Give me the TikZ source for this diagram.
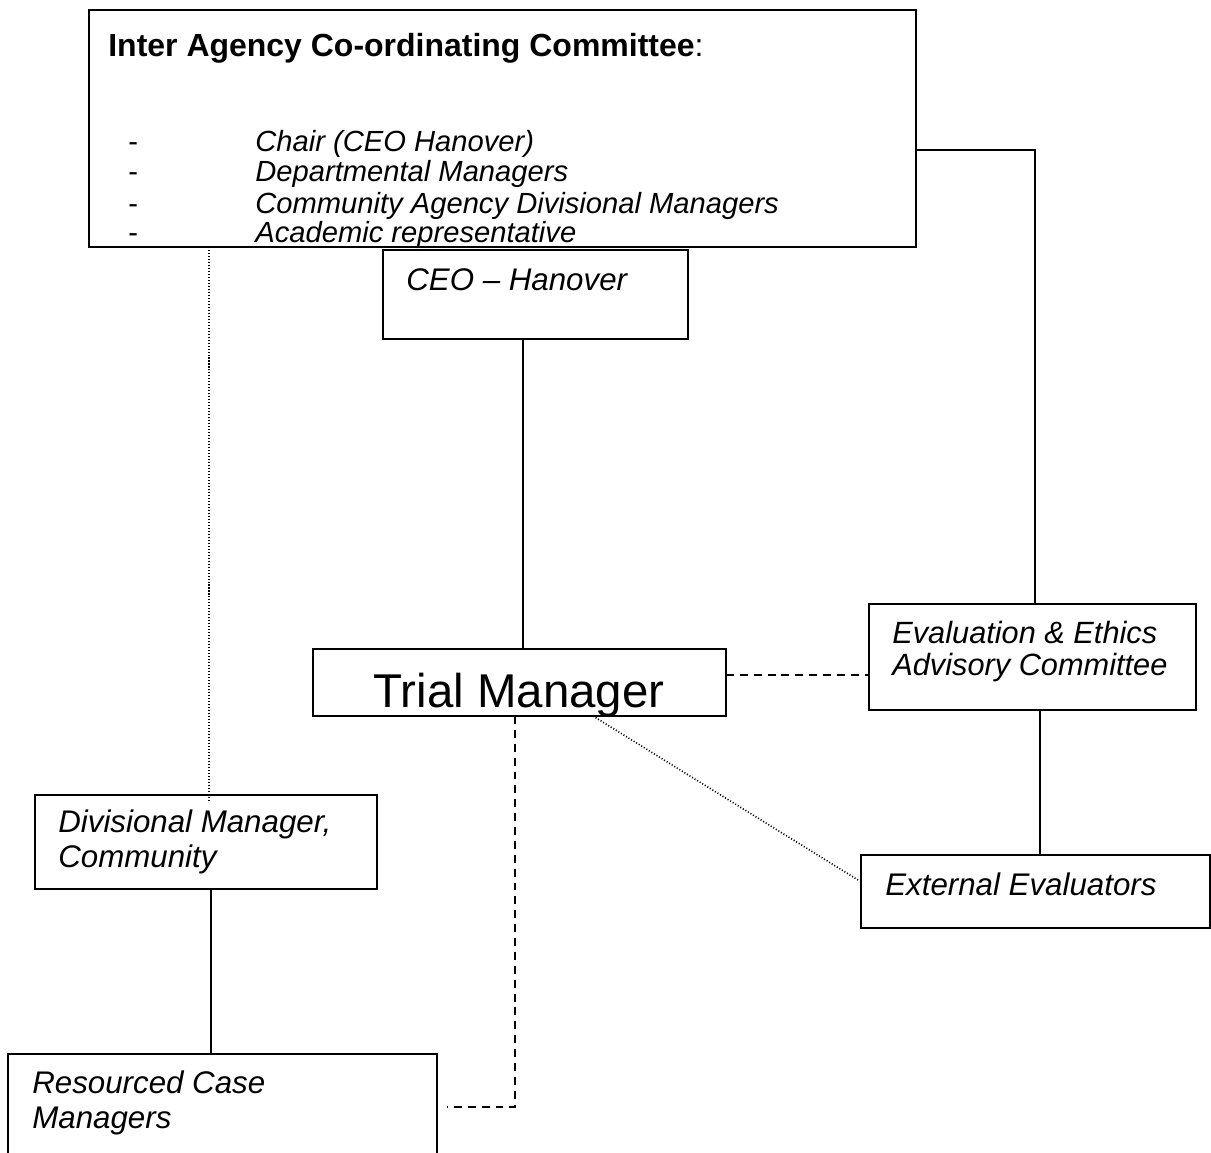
\documentclass[tikz,border=0pt]{standalone}
\usepackage{fontspec}
\setmainfont{Liberation Sans}

\tikzset{
  box/.style={draw, line width=1.1pt, inner sep=0pt, outer sep=0pt},
  boxtext/.style={anchor=west, inner sep=0pt, align=left, font=\fontsize{17.8}{20}\selectfont\itshape},
  solidlink/.style={line width=1.1pt},
  dashlink/.style={line width=1.1pt, dash pattern=on 4.5pt off 3.4pt},
  dotlink/.style={line width=0.9pt, dash pattern=on 0.6pt off 1.1pt},
}

\begin{document}
\begin{tikzpicture}[x=0.02cm, y=-0.02cm]
  \useasboundingbox (0,0) rectangle (1211,1153);
  % Committee at the top
  \node[box, minimum width=16.54cm, minimum height=4.74cm] (iacc) at (502.5,128.5) {};
  \node[anchor=west, inner sep=0pt, font=\fontsize{18.2}{20}\selectfont] (iacctitle) at (108,48)
    {\textbf{Inter Agency Co-ordinating Committee}:};
  \foreach \y/\txt [count=\i] in {151/Chair (CEO Hanover), 181/Departmental Managers,
      213/Community Agency Divisional Managers, 242/Academic representative} {
    \node[anchor=base west, inner sep=0pt, font=\fontsize{16.6}{18}\selectfont] (dash\i) at (128,\y) {-};
    \node[anchor=base west, inner sep=0pt, font=\fontsize{16.6}{18}\selectfont\itshape] (item\i) at (255,\y) {\txt};
  }
  % CEO
  \node[box, minimum width=6.10cm, minimum height=1.78cm] (ceo) at (535.5,294.5) {};
  \node[boxtext] (ceotext) at (406,280) {CEO -- Hanover};
  % Trial manager (text cut off by the box)
  \node[box, minimum width=8.26cm, minimum height=1.34cm] (trial) at (519.5,682.5) {};
  \begin{scope}
    \clip (trial.south west) rectangle (trial.north east);
    \node[anchor=base, inner sep=0pt, font=\fontsize{27}{30}\selectfont] (trialtext) at (519,707) {Trial Manager};
  \end{scope}
  % Evaluation committee and evaluators
  \node[box, minimum width=6.54cm, minimum height=2.12cm] (eec) at (1032.5,657) {};
  \node[boxtext, font=\fontsize{17.5}{18.2}\selectfont\itshape] (eectext) at (892,652)
    {Evaluation \& Ethics\\Advisory Committee};
  \node[box, minimum width=6.98cm, minimum height=1.46cm] (ext) at (1035.5,891.5) {};
  \node[boxtext] (exttext) at (885,884) {External Evaluators};
  % Community side
  \node[box, minimum width=6.84cm, minimum height=1.88cm] (div) at (206,842) {};
  \node[boxtext] (divtext) at (58,842) {Divisional Manager,\\Community};
  \node[box, minimum width=8.58cm, minimum height=2.12cm] (rcm) at (222.5,1107) {};
  \node[boxtext] (rcmtext) at (32,1102.5) {Resourced Case\\Managers};

  % Lines
  \draw[solidlink] (iacc.east) ++(0,21.5) -| ([xshift=0.05cm]eec.north);
  \draw[solidlink] ([xshift=-0.25cm]ceo.south) -- ([xshift=-0.25cm]ceo.south |- trial.north);
  \draw[solidlink] ([xshift=0.15cm]eec.south) -- ([xshift=0.15cm]eec.south |- ext.north);
  \draw[solidlink] ([xshift=0.1cm]div.south) -- ([xshift=0.1cm]div.south |- rcm.north);
  \draw[dotlink] ([xshift=0.06cm]div.north |- iacc.south) -- ([xshift=0.06cm,yshift=-0.1cm]div.north);
  \draw[dotlink] ([xshift=1.47cm]trial.south) -- ([xshift=-0.06cm,yshift=0.23cm]ext.west);
  \draw[dashlink] ([yshift=0.15cm]trial.east) -- ([yshift=0.15cm]trial.east -| eec.west);
  \draw[dashlink] ([xshift=-0.09cm]trial.south) |- ([xshift=0.2cm]rcm.east);
\end{tikzpicture}
\end{document}
